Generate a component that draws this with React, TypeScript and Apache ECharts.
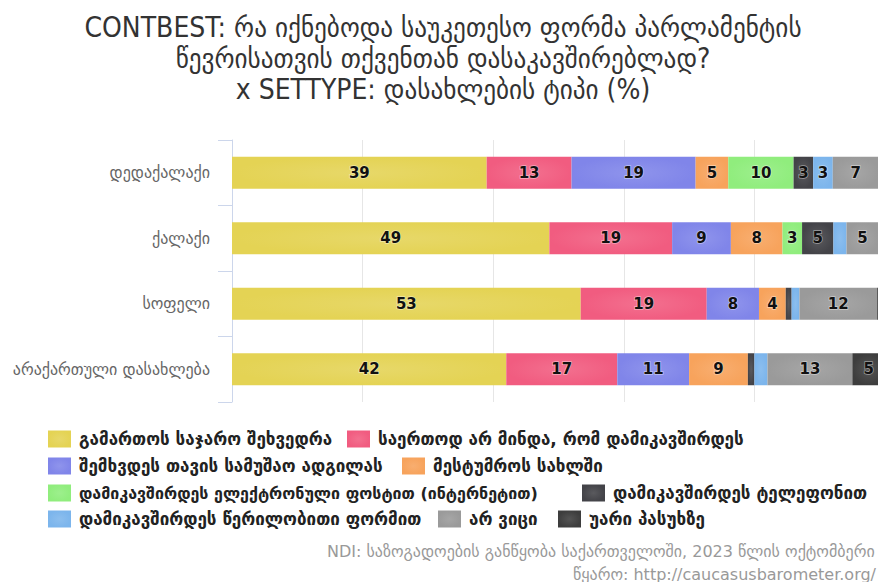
import React, { useEffect, useRef } from "react";
import * as echarts from "echarts";

const titleLines = [
  "CONTBEST: რა იქნებოდა საუკეთესო ფორმა პარლამენტის",
  "წევრისათვის თქვენთან დასაკავშირებლად?",
  "x SETTYPE: დასახლების ტიპი (%)",
];

const categories = ["დედაქალაქი", "ქალაქი", "სოფელი", "არაქართული დასახლება"];

const seriesNames = [
  "გამართოს საჯარო შეხვედრა",
  "საერთოდ არ მინდა, რომ დამიკავშირდეს",
  "შემხვდეს თავის სამუშაო ადგილას",
  "მესტუმროს სახლში",
  "დამიკავშირდეს ელექტრონული ფოსტით (ინტერნეტით)",
  "დამიკავშირდეს ტელეფონით",
  "დამიკავშირდეს წერილობითი ფორმით",
  "არ ვიცი",
  "უარი პასუხზე",
];

const publicMeeting = [39, 48.6, 53.4, 42];
const notAtAll = [13, 18.8, 19.3, 17];
const atWorkplace = [19, 9, 8, 11];
const atHome = [5, 7.9, 4.1, 9];
const email = [10, 3, 0, 0];
const phone = [3, 4.8, 0.9, 1];
const written = [3, 2, 1.2, 2];
const dontKnow = [7, 4.9, 11.9, 13];
const refusal = [1, 1.2, 1.2, 5];

const seriesValues = [publicMeeting, notAtAll, atWorkplace, atHome, email, phone, written, dontKnow, refusal];

const colors = ["#e4d354", "#f15c80", "#8085e9", "#f7a35c", "#90ed7d", "#434348", "#7cb5ec", "#9a9a9a", "#3d3d3d"];

const footerLines = [
  "NDI: საზოგადოების განწყობა საქართველოში, 2023 წლის ოქტომბერი",
  "წყარო: http://caucasusbarometer.org/",
];

// legend layout: [series index, left, centerY, fontSize]
const legendLayout: [number, number, number, number][] = [
  [0, 48, 439, 17],
  [1, 347, 439, 17],
  [2, 48, 466, 17],
  [3, 402, 466, 17],
  [4, 48, 493, 16],
  [5, 582, 493, 17],
  [6, 48, 519, 17],
  [7, 438, 519, 17],
  [8, 558, 519, 17],
];

function lighten(hex: string, amt: number) {
  const n = parseInt(hex.slice(1), 16);
  const r = (n >> 16) & 255, g = (n >> 8) & 255, b = n & 255;
  const f = (v: number) => Math.round(v + (255 - v) * amt);
  return `rgb(${f(r)},${f(g)},${f(b)})`;
}

const FONT = "'DejaVu Sans', sans-serif";

export default function App() {
  const ref = useRef<HTMLDivElement>(null);
  useEffect(() => {
    if (!ref.current) return;
    const chart = echarts.init(ref.current, undefined, { renderer: "svg" });
    const iconW = 23, iconH = 17;
    const legends = legendLayout.map(([idx, left, cy, fs]) => ({
      data: [seriesNames[idx]],
      left,
      top: cy - iconH / 2,
      padding: 0,
      itemWidth: iconW,
      itemHeight: iconH,
      icon: "rect",
      selectedMode: false,
      textStyle: {
        fontFamily: FONT,
        fontSize: fs,
        fontWeight: "bold",
        color: "#222",
        padding: [0, 0, 0, 3],
      },
    }));
    chart.setOption({
      animation: false,
      title: {
        text: titleLines.join("\n"),
        left: "center",
        top: 7,
        textStyle: {
          fontFamily: "'DejaVu Sans Condensed', 'DejaVu Sans', sans-serif",
          fontSize: 28,
          lineHeight: 31,
          fontWeight: "normal",
          color: "#333",
        },
      },
      legend: legends,
      grid: { left: 232, top: 140, width: 653, height: 262, containLabel: false },
      xAxis: {
        type: "value",
        min: 0,
        max: 100,
        interval: 20,
        axisLabel: { show: false },
        axisLine: { show: false },
        axisTick: { show: false },
        splitLine: { lineStyle: { color: "#e6e6e6", width: 1 } },
      },
      yAxis: {
        type: "category",
        data: categories,
        inverse: true,
        axisLine: { show: true, lineStyle: { color: "#ccd6eb" } },
        axisTick: { show: true, length: 14, lineStyle: { color: "#ccd6eb" } },
        axisLabel: { margin: 22, color: "#666", fontSize: 16, fontFamily: FONT },
      },
      series: seriesNames.map((name, i) => ({
        name,
        type: "bar",
        stack: "total",
        barWidth: 32,
        itemStyle: {
          color: new echarts.graphic.RadialGradient(0.5, 0.5, 0.5, [
            { offset: 0, color: lighten(colors[i], 0.12) },
            { offset: 1, color: colors[i] },
          ]),
        },
        label: {
          show: true,
          position: "inside",
          fontFamily: FONT,
          fontSize: 15,
          fontWeight: "bold",
          color: "#111",
          textBorderColor: "rgba(255,255,255,0.45)",
          textBorderWidth: 1.5,
          formatter: (p: any) => (p.value >= 2.5 ? String(Math.round(p.value)) : ""),
        },
        data: seriesValues[i],
      })),
      graphic: [
        {
          type: "text",
          left: 327,
          top: 543,
          style: { text: footerLines[0], fill: "#999", fontSize: 16, fontFamily: FONT },
        },
        {
          type: "text",
          left: 573,
          top: 566,
          style: { text: footerLines[1], fill: "#999", fontSize: 16, fontFamily: FONT },
        },
      ],
    });
    return () => chart.dispose();
  }, []);
  return (
    <div style={{ position: "fixed", left: 0, top: 0, width: 878, height: 582, overflow: "hidden", background: "#fff" }}>
      <div ref={ref} style={{ width: 886, height: 582 }} />
    </div>
  );
}
